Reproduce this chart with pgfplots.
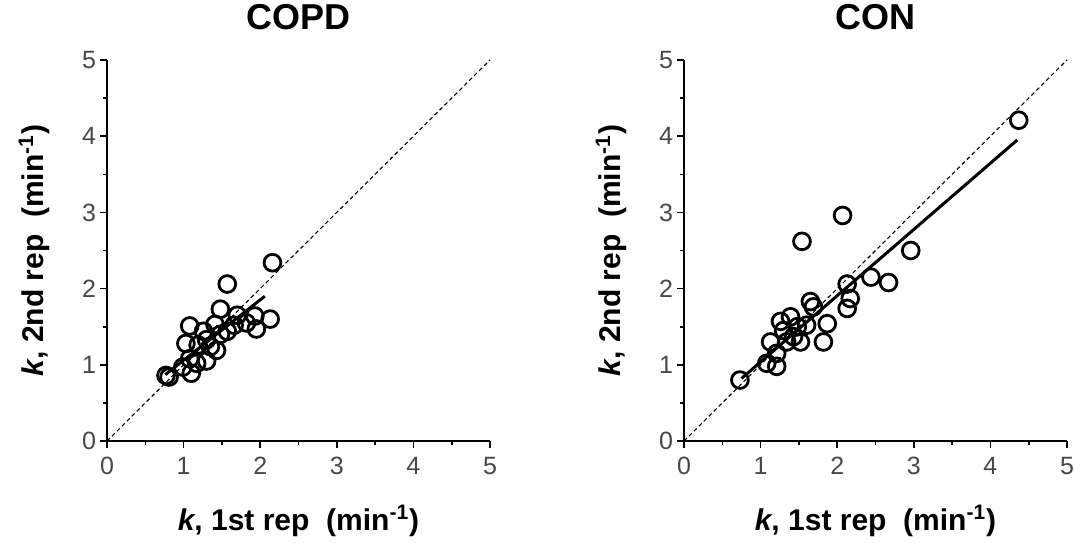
\documentclass[border=0pt]{standalone}
\usepackage{fontspec}
\setmainfont{Liberation Sans}
\usepackage{pgfplots}
\pgfplotsset{compat=1.18}

\pgfplotsset{
  kplot/.style={
    scale only axis, width=191.5pt, height=190.5pt,
    xmin=0, xmax=5, ymin=0, ymax=5,
    axis lines*=left,
    axis line style={line width=0.8pt},
    xtick={0,...,5}, ytick={0,...,5}, minor tick num=1,
    tick align=outside, major tick length=3.5pt, minor tick length=2pt,
    every tick/.style={line width=0.8pt, black},
    every minor tick/.style={line width=0.8pt, black},
    /pgf/number format/assume math mode=true,
    tick label style={font=\fontsize{12.5}{14}\selectfont, text=black!72},
    xticklabel style={yshift=-1pt},
    yticklabel style={xshift=1.5pt},
    clip=false,
    title style={font=\fontsize{18}{21}\selectfont\bfseries,
                 at={(axis description cs:0.5,1.08)}, anchor=center},
    xlabel style={font=\fontsize{15}{17}\selectfont\bfseries,
                  at={(axis description cs:0.5,-0.21)}, anchor=center},
    ylabel style={font=\fontsize{15}{17}\selectfont\bfseries,
                  at={(axis description cs:-0.19,0.5)}, anchor=center},
    xlabel={\textit{k}, 1st rep\ \ (min\textsuperscript{-1})},
    ylabel={\textit{k}, 2nd rep\ \ (min\textsuperscript{-1})},
  },
  pts/.style={only marks, mark=o, mark size=4.2pt, black,
              mark options={line width=1.4pt}},
  ident/.style={black, line width=0.55pt, dash pattern=on 2pt off 1.5pt},
  fit/.style={black, line width=1.5pt},
}

\begin{document}
\begin{tikzpicture}
% COPD
\begin{axis}[kplot, at={(53.5pt,50.5pt)}, anchor=south west, title={COPD}]
\addplot[ident] coordinates {(0,0) (5,5)};
\addplot[fit] coordinates {(0.76,0.87) (2.06,1.90)};
\addplot[pts] coordinates {
(2.16,2.34) (1.57,2.06) (1.48,1.73) (1.70,1.65) (1.93,1.64) (2.13,1.60)
(1.95,1.47) (1.82,1.55) (1.66,1.52) (1.08,1.51) (1.26,1.44) (1.41,1.53)
(1.48,1.40) (1.03,1.28) (1.19,1.26) (1.35,1.24) (1.43,1.19) (1.30,1.05)
(1.08,1.08) (0.99,0.97) (1.10,0.89) (0.77,0.86) (0.81,0.84) (1.57,1.44)
(1.30,1.33) (1.17,1.02)
};
\end{axis}
% CON
\begin{axis}[kplot, at={(342pt,50.5pt)}, anchor=south west, title={CON}]
\addplot[ident] coordinates {(0,0) (5,5)};
\addplot[fit] coordinates {(0.75,0.82) (4.35,3.95)};
\addplot[pts] coordinates {
(4.37,4.21) (2.07,2.96) (1.54,2.62) (2.96,2.50) (2.44,2.15) (2.67,2.08)
(2.13,2.06) (2.17,1.87) (2.13,1.74) (1.65,1.83) (1.69,1.76) (1.87,1.54)
(1.82,1.30) (1.26,1.57) (1.39,1.63) (1.48,1.50) (1.60,1.52) (1.52,1.30)
(1.34,1.30) (1.13,1.30) (1.21,1.15) (1.08,1.02) (1.21,0.98) (0.73,0.80)
(1.43,1.37) (1.30,1.45)
};
\end{axis}
\pgfresetboundingbox
\path (0,0) rectangle (537.5pt,271pt);
\end{tikzpicture}
\end{document}
